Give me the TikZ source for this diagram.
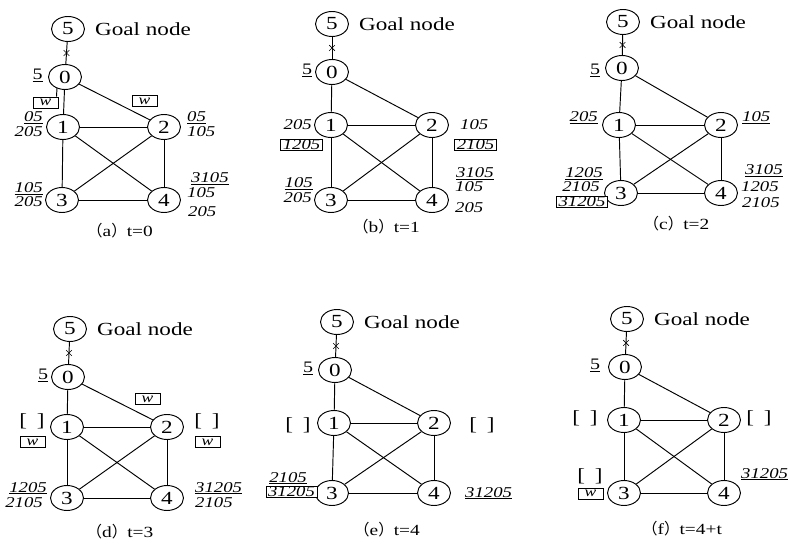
\documentclass[tikz,border=0pt]{standalone}
\usepackage{fontspec}
\setmainfont{Liberation Serif}[FakeStretch=1.25]
\newfontfamily\cjk{Noto Sans CJK SC}
\usetikzlibrary{shapes.geometric,shapes.misc,calc}
\tikzset{
 gnode/.style={draw, ellipse, minimum width=33pt, minimum height=25pt, inner sep=0pt, line width=0.95pt, font=\fontsize{18.5}{18.5}\selectfont},
 edge/.style={line width=0.95pt},
 goaltxt/.style={font=\fontsize{18.5}{18.5}\selectfont, inner sep=0pt, anchor=west},
 lbl/.style={font=\fontsize{15}{15}\selectfont\itshape, inner sep=0pt},
 boxlbl/.style={draw, fill=white, line width=0.8pt, font=\fontsize{15}{15}\selectfont\itshape, inner xsep=2pt, inner ysep=0.8pt},
 wbox/.style={draw, fill=white, line width=0.8pt, minimum width=25pt, minimum height=11pt, inner sep=0pt, font=\fontsize{14}{14}\selectfont\itshape},
 brk/.style={font=\fontsize{18.5}{18.5}\selectfont, inner sep=0pt},
 five/.style={font=\fontsize{16}{16}\selectfont, inner sep=0pt, anchor=base},
 captxt/.style={font=\fontsize{15.5}{15.5}\selectfont, inner sep=0pt, anchor=base},
 xmark/.style={cross out, draw, minimum size=5pt, inner sep=0pt, line width=0.7pt}
}
\newcommand\skel[7]{%
  \node[gnode] (#1n5) at (#2) {5};
  \node[gnode] (#1n0) at (#3) {0};
  \node[gnode] (#1n1) at (#4) {1};
  \node[gnode] (#1n2) at (#5) {2};
  \node[gnode] (#1n3) at (#6) {3};
  \node[gnode] (#1n4) at (#7) {4};
  \node[goaltxt] (#1goal) at ([xshift=10pt]#1n5.east) {Goal node};
  \draw[edge] (#1n5) -- node[xmark] (#1x) {} (#1n0);
  \draw[edge] (#1n0) -- (#1n1);
  \draw[edge] (#1n0) -- (#1n2);
  \draw[edge] (#1n1) -- (#1n2);
  \draw[edge] (#1n1) -- (#1n3);
  \draw[edge] (#1n1) -- (#1n4);
  \draw[edge] (#1n2) -- (#1n3);
  \draw[edge] (#1n2) -- (#1n4);
  \draw[edge] (#1n3) -- (#1n4);
}
\newcommand\emptybr{[\hspace{10pt}]}
\begin{document}
\begin{tikzpicture}[x=1pt,y=-1pt]
\fill[white] (0,0) rectangle (788,540);
\useasboundingbox (0,0) rectangle (788,540);
% ---------- (a)
\skel{a}{68,29}{65,77}{63,127}{164,127}{62,200}{164,200}
\node[five] (a5u) at (37.5,80) {\underline{5}};
\node[wbox] (aw1) at (45.5,102.5) {w};
\coordinate (aw1t) at (57,88);
\draw[edge] ([xshift=11pt]aw1.north) -- (aw1t);
\node[wbox] (aw2) at (144.5,101) {w};
\node[lbl, anchor=base east] (a1l1) at (43,122) {\underline{05}};
\node[lbl, anchor=base east] (a1l2) at (43,137) {205};
\node[lbl, anchor=base west] (a2l1) at (187,122) {\underline{05}};
\node[lbl, anchor=base west] (a2l2) at (187,137) {105};
\node[lbl, anchor=base east] (a3l1) at (43,193) {\underline{105}};
\node[lbl, anchor=base east] (a3l2) at (43,207) {205};
\node[lbl, anchor=base west] (a4l1) at (191,183) {\underline{3105}};
\node[lbl, anchor=base west] (a4l2) at (187,198) {105};
\node[lbl, anchor=base west] (a4l3) at (188,217) {205};
\node[captxt] (acap) at (120,237) {{\cjk （}a{\cjk ）}t=0};
% ---------- (b)
\skel{b}{332,24}{332,72}{331,125}{432,125}{331,200}{432,200}
\node[five] (b5u) at (307,75) {\underline{5}};
\node[lbl, anchor=base east] (b1l) at (312,130) {205};
\node[boxlbl] (b1b) at (301.5,145) {1205};
\node[lbl, anchor=base west] (b2l) at (460,130) {105};
\node[boxlbl] (b2b) at (475.5,145) {2105};
\node[lbl, anchor=base east] (b3l1) at (313,188) {\underline{105}};
\node[lbl, anchor=base east] (b3l2) at (312,203) {205};
\node[lbl, anchor=base west] (b4l1) at (456,178) {\underline{3105}};
\node[lbl, anchor=base west] (b4l2) at (455,192) {105};
\node[lbl, anchor=base west] (b4l3) at (455,213) {205};
\node[captxt] (bcap) at (386.5,233) {{\cjk （}b{\cjk ）}t=1};
% ---------- (c)
\skel{c}{623,22}{622,68}{619,125}{721,125}{621,193}{721,193}
\node[five] (c5u) at (595,75) {\underline{5}};
\node[lbl, anchor=base east] (c1l) at (598,122) {\underline{205}};
\node[lbl, anchor=base west] (c2l) at (742,122) {\underline{105}};
\node[lbl, anchor=base east] (c3l1) at (603,177.5) {\underline{1205}};
\node[lbl, anchor=base east] (c3l2) at (600,192) {2105};
\node[boxlbl] (c3b) at (582,202) {31205};
\node[lbl, anchor=base west] (c4l1) at (745,175) {\underline{3105}};
\node[lbl, anchor=base west] (c4l2) at (741,192) {1205};
\node[lbl, anchor=base west] (c4l3) at (742,208) {2105};
\node[captxt] (ccap) at (676.5,230) {{\cjk （}c{\cjk ）}t=2};
% ---------- (d)
\skel{d}{70,329}{68,377}{67,427}{167,427}{67,498}{167,498}
\node[five] (d5u) at (43,380) {\underline{5}};
\node[brk] (d1b) at (32,421) {\emptybr};
\node[wbox] (d1w) at (32.5,442) {w};
\node[wbox] (dw) at (147.5,399) {w};
\node[brk] (d2b) at (207,421) {\emptybr};
\node[wbox] (d2w) at (207.5,442) {w};
\node[lbl, anchor=base east] (d3l1) at (47,492) {\underline{1205}};
\node[lbl, anchor=base east] (d3l2) at (43,507) {2105};
\node[lbl, anchor=base west] (d4l1) at (195,492) {\underline{31205}};
\node[lbl, anchor=base west] (d4l2) at (195,507) {2105};
\node[captxt] (dcap) at (120,537) {{\cjk （}d{\cjk ）}t=3};
% ---------- (e)
\skel{e}{337,322}{335,370}{334,423}{434,423}{332,493}{434,493}
\node[five] (e5u) at (308,373) {\underline{5}};
\node[brk] (e1b) at (298,425) {\emptybr};
\node[brk] (e2b) at (482,425) {\emptybr};
\node[lbl, anchor=base east] (e3l1) at (307,482) {\underline{2105}};
\node[boxlbl] (e3b) at (291.5,492) {31205};
\node[lbl, anchor=base west] (e4l) at (465,497) {\underline{31205}};
\node[captxt] (ecap) at (387,535) {{\cjk （}e{\cjk ）}t=4};
% ---------- (f)
\skel{f}{627,319}{625,367}{624,420}{724,420}{624,493}{724,493}
\node[five] (f5u) at (595,370) {\underline{5}};
\node[brk] (f1b) at (585,418) {\emptybr};
\node[brk] (f2b) at (759,418) {\emptybr};
\node[brk] (f3b) at (590,476) {\emptybr};
\node[wbox] (f3w) at (590.5,493.5) {w};
\node[lbl, anchor=base west] (f4l) at (741,478) {\underline{31205}};
\node[captxt] (fcap) at (682,534) {{\cjk （}f{\cjk ）}t=4+t};
\end{tikzpicture}
\end{document}
